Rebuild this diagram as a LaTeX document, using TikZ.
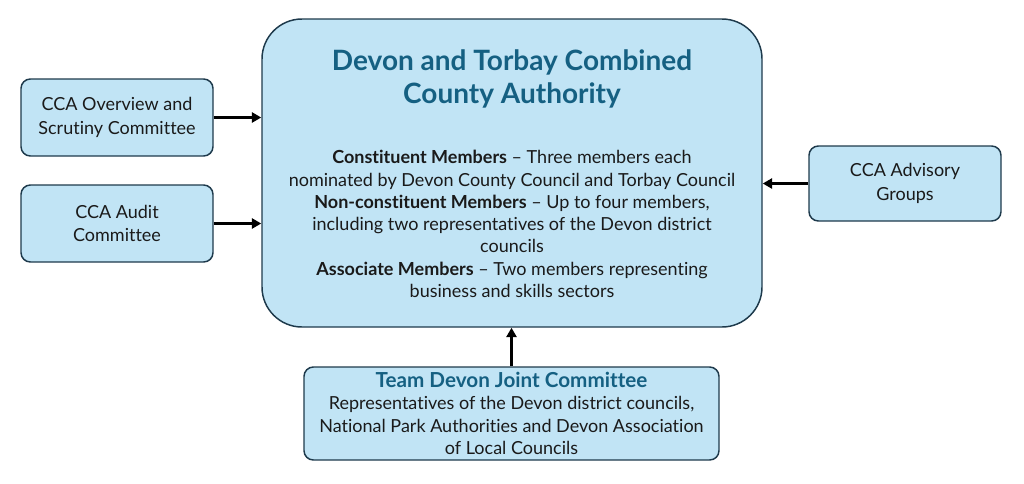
\documentclass[tikz,border=0pt]{standalone}
\usepackage{fontspec}
\setmainfont{Lato}[Ligatures = NoCommon]
\usetikzlibrary{positioning}
\usetikzlibrary{arrows.meta}

\definecolor{boxfill}{HTML}{C1E4F5}
\definecolor{boxline}{HTML}{1E3A4C}
\definecolor{titleblue}{HTML}{156082}
\definecolor{textgrey}{HTML}{1A1A1A}

\begin{document}
\begin{tikzpicture}[x = 0.75pt, y = -0.75pt,
		panel/.style = {draw = boxline, fill = boxfill, line width = 1.1pt, rounded corners = 7pt, align = center, inner sep = 0pt, text = textgrey, font = \fontsize{13.5}{17.5}\selectfont},
		link/.style = {black, line width = 2.2pt, -{Triangle[length = 7pt, width = 7.5pt]}}]
					\useasboundingbox (0, 0) rectangle (1024, 483);
					\node [panel, minimum width = 375pt, minimum height = 231pt, rounded corners = 30pt] (cca) at (512, 173) {};
					\node [align = center, text = titleblue, font = \fontsize{21}{24.75}\selectfont\bfseries] (ccatitle) at (512, 79) {Devon and Torbay Combined\\County Authority};
					\node [align = center, text = textgrey, font = \fontsize{13.5}{16.7}\selectfont] (ccabody) at (512, 224) {\textbf{Constituent Members} – Three members each\\nominated by Devon County Council and Torbay Council\\\textbf{Non-constituent Members} – Up to four members,\\including two representatives of the Devon district\\councils\\\textbf{Associate Members} – Two members representing\\business and skills sectors};
					\node [panel, minimum width = 144pt, minimum height = 57.75pt] (overview) at (117, 117.5) {CCA Overview and\\Scrutiny Committee};
					\node [panel, minimum width = 144pt, minimum height = 57.75pt] (audit) at (117, 223.5) {CCA Audit\\Committee};
					\node [panel, minimum width = 144pt, minimum height = 56.25pt] (advisory) at (905, 183.5) {CCA Advisory\\Groups};
					\node [panel, minimum width = 311.25pt, minimum height = 69.75pt, font = \fontsize{13.5}{16.8}\selectfont] (team) at (511.5, 413.5) {\textcolor{titleblue}{\fontsize{15.5}{16.8}\selectfont\bfseries Team Devon Joint Committee}\\Representatives of the Devon district councils,\\National Park Authorities and Devon Association\\of Local Councils};
					\draw [link] (overview) -- (overview -| cca.west);
					\draw [link] (audit) -- (audit -| cca.west);
					\draw [link] (advisory) -- (advisory -| cca.east);
					\draw [link] (team.north) -- (team.north |- cca.south);
				\end{tikzpicture}
\end{document}
